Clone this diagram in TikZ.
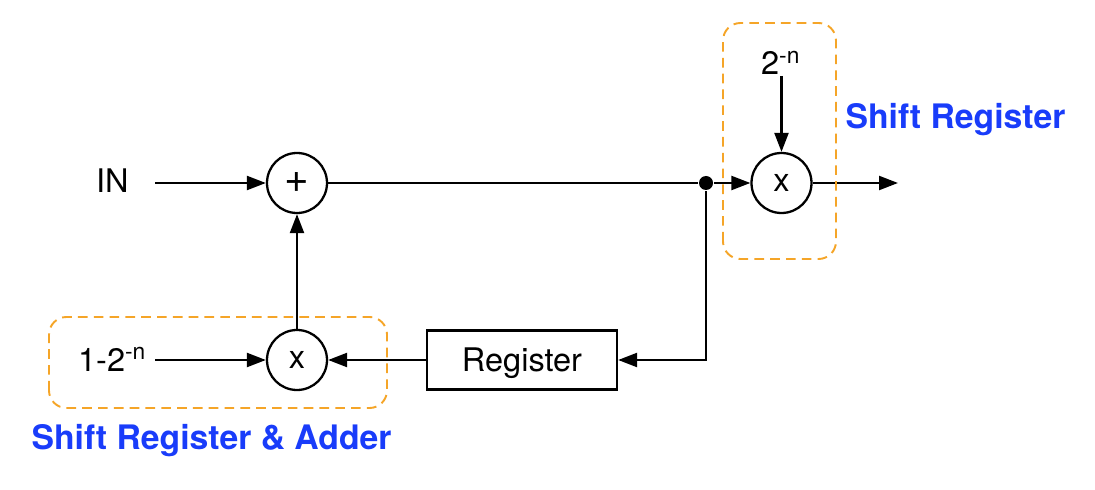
\documentclass[tikz,border=0pt]{standalone}
\usepackage{fontspec}
\setmainfont{TeX Gyre Heros}
\usetikzlibrary{arrows.meta,positioning}
\definecolor{capblue}{RGB}{25,60,250}
\definecolor{grouporange}{RGB}{245,165,40}

\begin{document}
\begin{tikzpicture}[->,>={Triangle[length=0.38cm,width=0.28cm]},line width=1.3pt,
    font=\fontsize{18.5}{22}\selectfont,
    op/.style={circle,draw,minimum size=1.2cm,inner sep=0pt},
    regbox/.style={rectangle,draw,minimum width=3.8cm,minimum height=1.18cm,text depth=0pt},
    dot/.style={circle,fill,inner sep=0pt,minimum size=0.28cm},
    lbl/.style={inner sep=0pt,anchor=base west},
    group/.style={-,draw=grouporange,dash pattern=on 5.5pt off 3.5pt,rounded corners=0.35cm,line width=1.1pt},
    caption/.style={text=capblue,text depth=0pt,font=\fontsize{19.2}{23}\selectfont\bfseries}]
    \useasboundingbox (0,0) rectangle (21.9,9.78);
    % blocks
    \node[op,font=\fontsize{24}{26}\selectfont] (add) at (5.94,6.12) {+};
    \node[op] (mula) at (5.94,2.58) {x};
    \node[op] (mulb) at (15.63,6.12) {x};
    \node[regbox] (reg) at (10.44,2.58) {Register};
    \node[dot] (tap) at (14.12,6.12) {};
    % inputs and output
    \node[lbl] (in) at (1.9,5.93) {IN};
    \node[lbl] (coef) at (1.54,2.36) {1-2\textsuperscript{-n}};
    \node[lbl] (gain) at (15.2,8.28) {2\textsuperscript{-n}};
    \coordinate (inpt) at (3.1,6.12);
    \coordinate (coefpt) at (3.1,2.58);
    \coordinate (gainpt) at (15.63,8.26);
    \coordinate (outpt) at (17.96,6.12);
    \path
    (inpt) edge (add)
    (coefpt) edge (mula)
    (mula) edge (add)
    (reg) edge (mula)
    (add) edge[-] (tap)
    (tap) edge (mulb)
    (gainpt) edge (mulb)
    (mulb) edge (outpt);
    \draw (tap) |- (reg);
    % groups
    \draw[group] (0.98,1.62) rectangle (7.74,3.44);
    \draw[group] (14.46,4.6) rectangle (16.72,9.32);
    \node[caption] (capa) at (4.23,1.04) {Shift Register \& Adder};
    \node[caption] (capb) at (19.11,7.46) {Shift Register};
\end{tikzpicture}
\end{document}
